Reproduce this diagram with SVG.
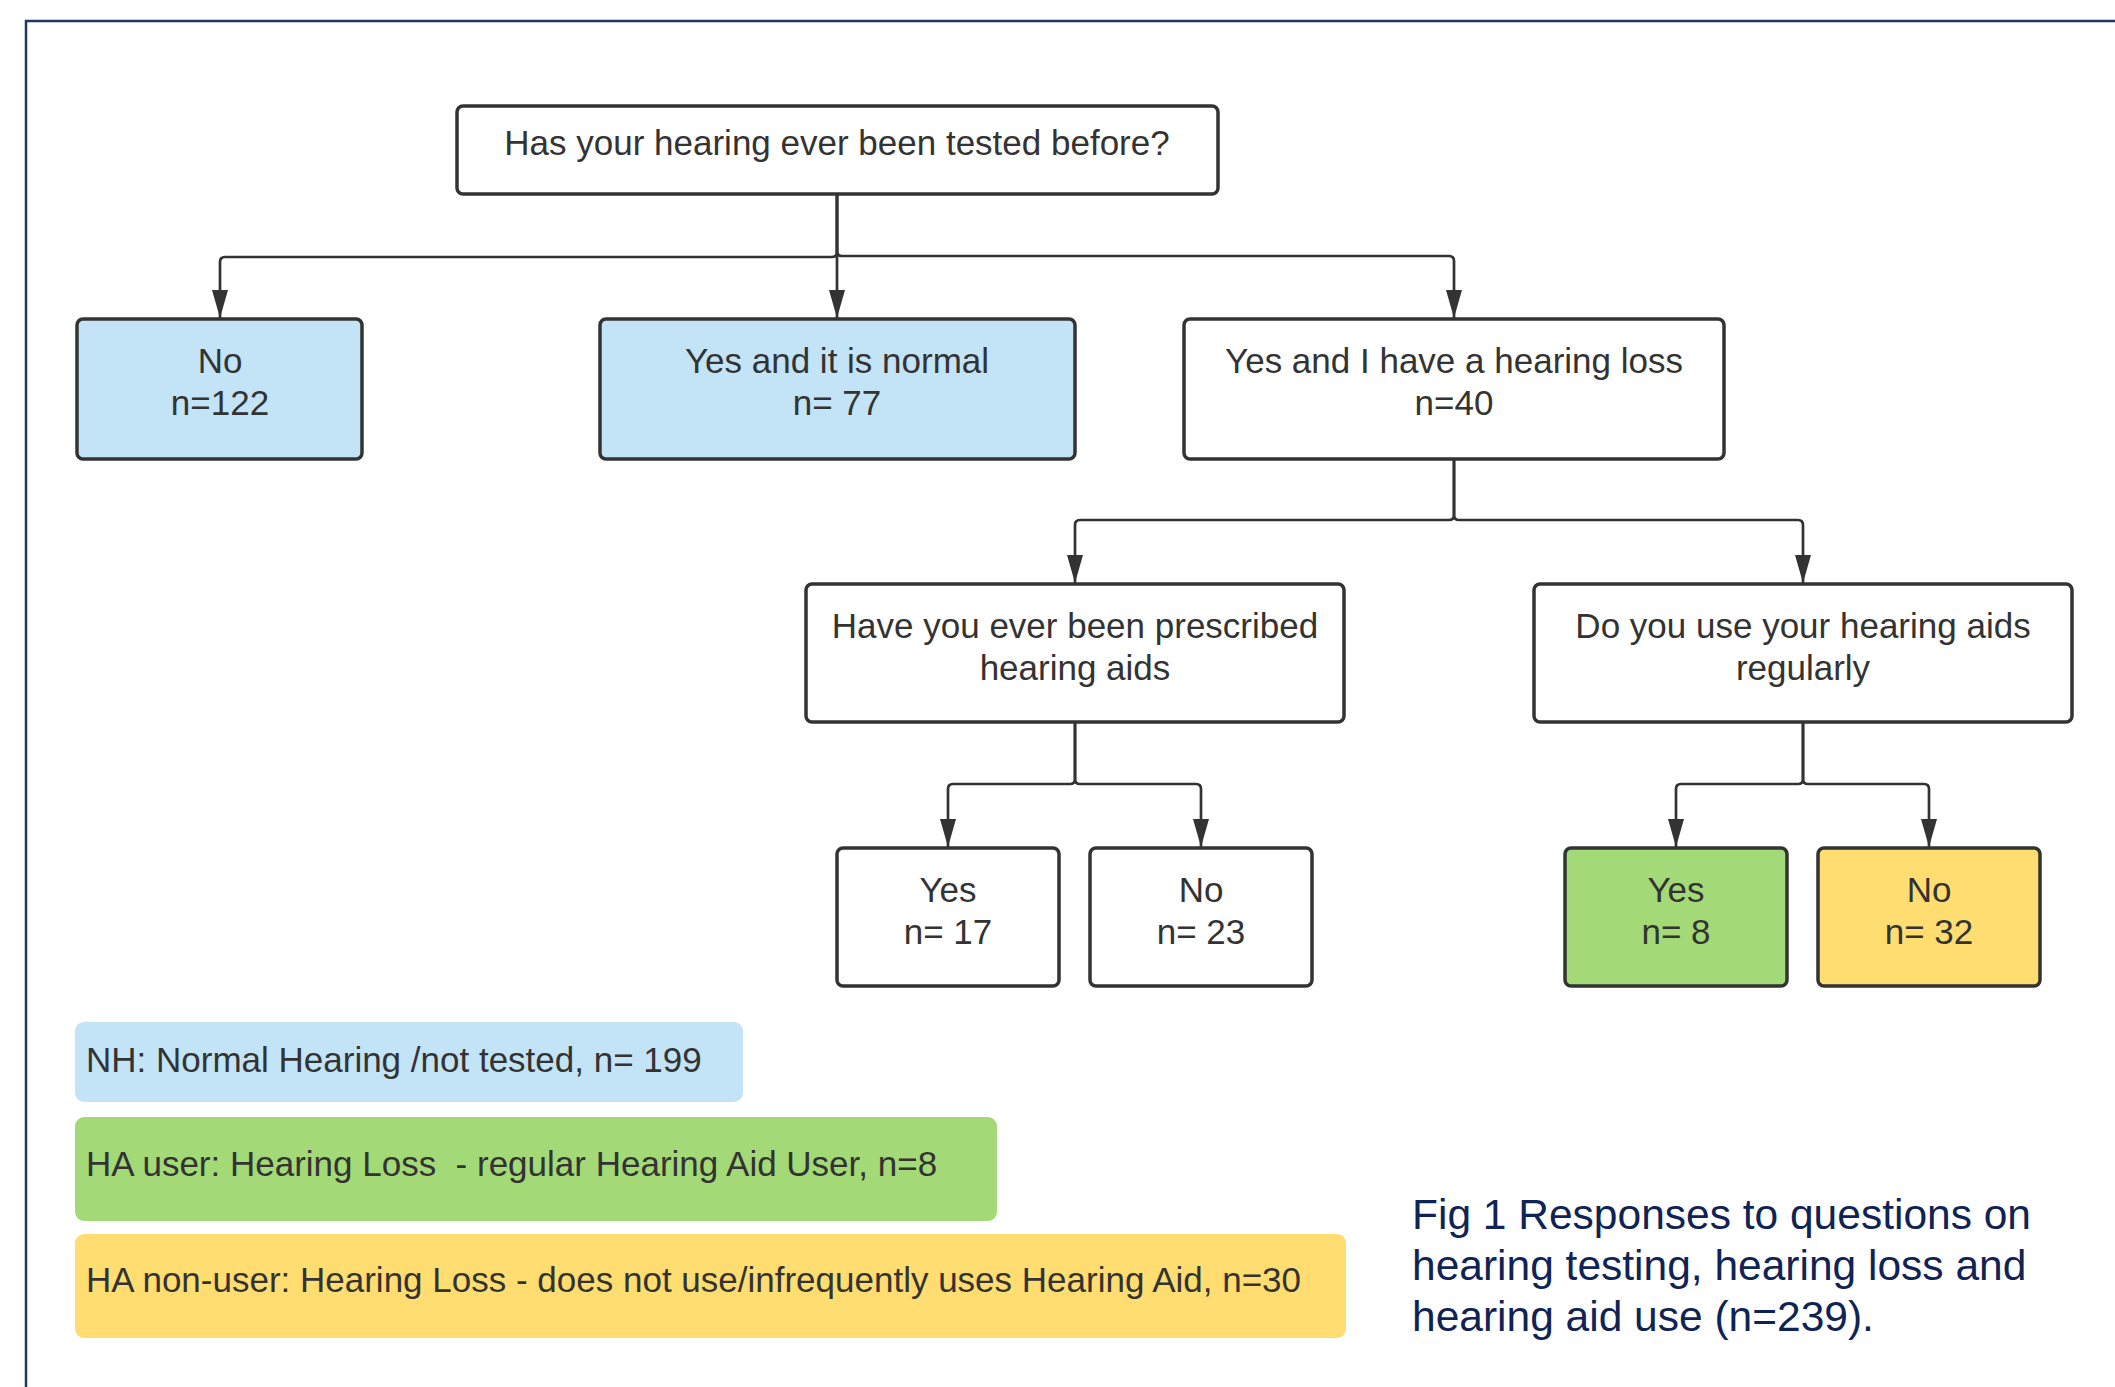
<svg xmlns="http://www.w3.org/2000/svg" width="2115" height="1387" viewBox="0 0 2115 1387">
<style>
.node{stroke:#333;stroke-width:3.5;}
.w{fill:#fff}
.b{fill:#c2e4f6}
.g{fill:#a3d977}
.y{fill:#ffdd71}
.t{font-family:"Liberation Sans",Arial,sans-serif;font-size:35px;fill:#333;text-anchor:middle}
.lt{font-family:"Liberation Sans",Arial,sans-serif;font-size:35px;fill:#333;white-space:pre}
.cap{font-family:"Liberation Sans",Arial,sans-serif;font-size:42.5px;fill:#0f2454}
.c{fill:none;stroke:#333;stroke-width:2.7}
</style>
<defs>
<marker id="ah" markerUnits="userSpaceOnUse" markerWidth="28" markerHeight="16" refX="28" refY="8" orient="auto" viewBox="0 0 28 16">
<path d="M0,0 L28,8 L0,16 z" fill="#333"/>
</marker>
</defs>
<rect x="0" y="0" width="2115" height="1387" fill="#fff"/>
<rect x="26" y="21" width="2200" height="1500" fill="none" stroke="#1f3864" stroke-width="2.5"/>

<g id="connectors">
<path class="c" d="M837,194 V252 Q837,257 832,257 H225 Q220,257 220,262 V318" marker-end="url(#ah)"/>
<path class="c" d="M837,194 V318" marker-end="url(#ah)"/>
<path class="c" d="M837,194 V251 Q837,256 842,256 H1449 Q1454,256 1454,261 V318" marker-end="url(#ah)"/>
<path class="c" d="M1454,459 V515 Q1454,520 1449,520 H1080 Q1075,520 1075,525 V583" marker-end="url(#ah)"/>
<path class="c" d="M1454,459 V515 Q1454,520 1459,520 H1798 Q1803,520 1803,525 V583" marker-end="url(#ah)"/>
<path class="c" d="M1075,722 V779 Q1075,784 1070,784 H953 Q948,784 948,789 V847" marker-end="url(#ah)"/>
<path class="c" d="M1075,722 V779 Q1075,784 1080,784 H1196 Q1201,784 1201,789 V847" marker-end="url(#ah)"/>
<path class="c" d="M1803,722 V779 Q1803,784 1798,784 H1681 Q1676,784 1676,789 V847" marker-end="url(#ah)"/>
<path class="c" d="M1803,722 V779 Q1803,784 1808,784 H1924 Q1929,784 1929,789 V847" marker-end="url(#ah)"/>
</g>

<g id="q1">
<rect class="node w" x="457" y="106" width="761" height="88" rx="6"/>
<text class="t" x="837" y="155">Has your hearing ever been tested before?</text>
</g>
<g id="no1">
<rect class="node b" x="77" y="319" width="285" height="140" rx="6"/>
<text class="t" x="220" y="373">No</text>
<text class="t" x="220" y="415">n=122</text>
</g>
<g id="yesnormal">
<rect class="node b" x="600" y="319" width="475" height="140" rx="6"/>
<text class="t" x="837" y="373">Yes and it is normal</text>
<text class="t" x="837" y="415">n= 77</text>
</g>
<g id="yesloss">
<rect class="node w" x="1184" y="319" width="540" height="140" rx="6"/>
<text class="t" x="1454" y="373">Yes and I have a hearing loss</text>
<text class="t" x="1454" y="415">n=40</text>
</g>
<g id="q2">
<rect class="node w" x="806" y="584" width="538" height="138" rx="6"/>
<text class="t" x="1075" y="638">Have you ever been prescribed</text>
<text class="t" x="1075" y="680">hearing aids</text>
</g>
<g id="q3">
<rect class="node w" x="1534" y="584" width="538" height="138" rx="6"/>
<text class="t" x="1803" y="638">Do you use your hearing aids</text>
<text class="t" x="1803" y="680">regularly</text>
</g>
<g id="yes2">
<rect class="node w" x="837" y="848" width="222" height="138" rx="6"/>
<text class="t" x="948" y="902">Yes</text>
<text class="t" x="948" y="944">n= 17</text>
</g>
<g id="no2">
<rect class="node w" x="1090" y="848" width="222" height="138" rx="6"/>
<text class="t" x="1201" y="902">No</text>
<text class="t" x="1201" y="944">n= 23</text>
</g>
<g id="yes3">
<rect class="node g" x="1565" y="848" width="222" height="138" rx="6"/>
<text class="t" x="1676" y="902">Yes</text>
<text class="t" x="1676" y="944">n= 8</text>
</g>
<g id="no3">
<rect class="node y" x="1818" y="848" width="222" height="138" rx="6"/>
<text class="t" x="1929" y="902">No</text>
<text class="t" x="1929" y="944">n= 32</text>
</g>

<g id="legend-nh">
<rect class="b" x="75" y="1022" width="668" height="80" rx="9"/>
<text class="lt" x="86" y="1072">NH: Normal Hearing /not tested, n= 199</text>
</g>
<g id="legend-hauser">
<rect class="g" x="75" y="1117" width="922" height="104" rx="9"/>
<text class="lt" x="86" y="1176">HA user: Hearing Loss  - regular Hearing Aid User, n=8</text>
</g>
<g id="legend-hanonuser">
<rect class="y" x="75" y="1234" width="1271" height="104" rx="9"/>
<text class="lt" x="86" y="1292">HA non-user: Hearing Loss - does not use/infrequently uses Hearing Aid, n=30</text>
</g>

<g id="caption">
<text class="cap" x="1412" y="1229">Fig 1 Responses to questions on</text>
<text class="cap" x="1412" y="1280">hearing testing, hearing loss and</text>
<text class="cap" x="1412" y="1331">hearing aid use (n=239).</text>
</g>
</svg>
